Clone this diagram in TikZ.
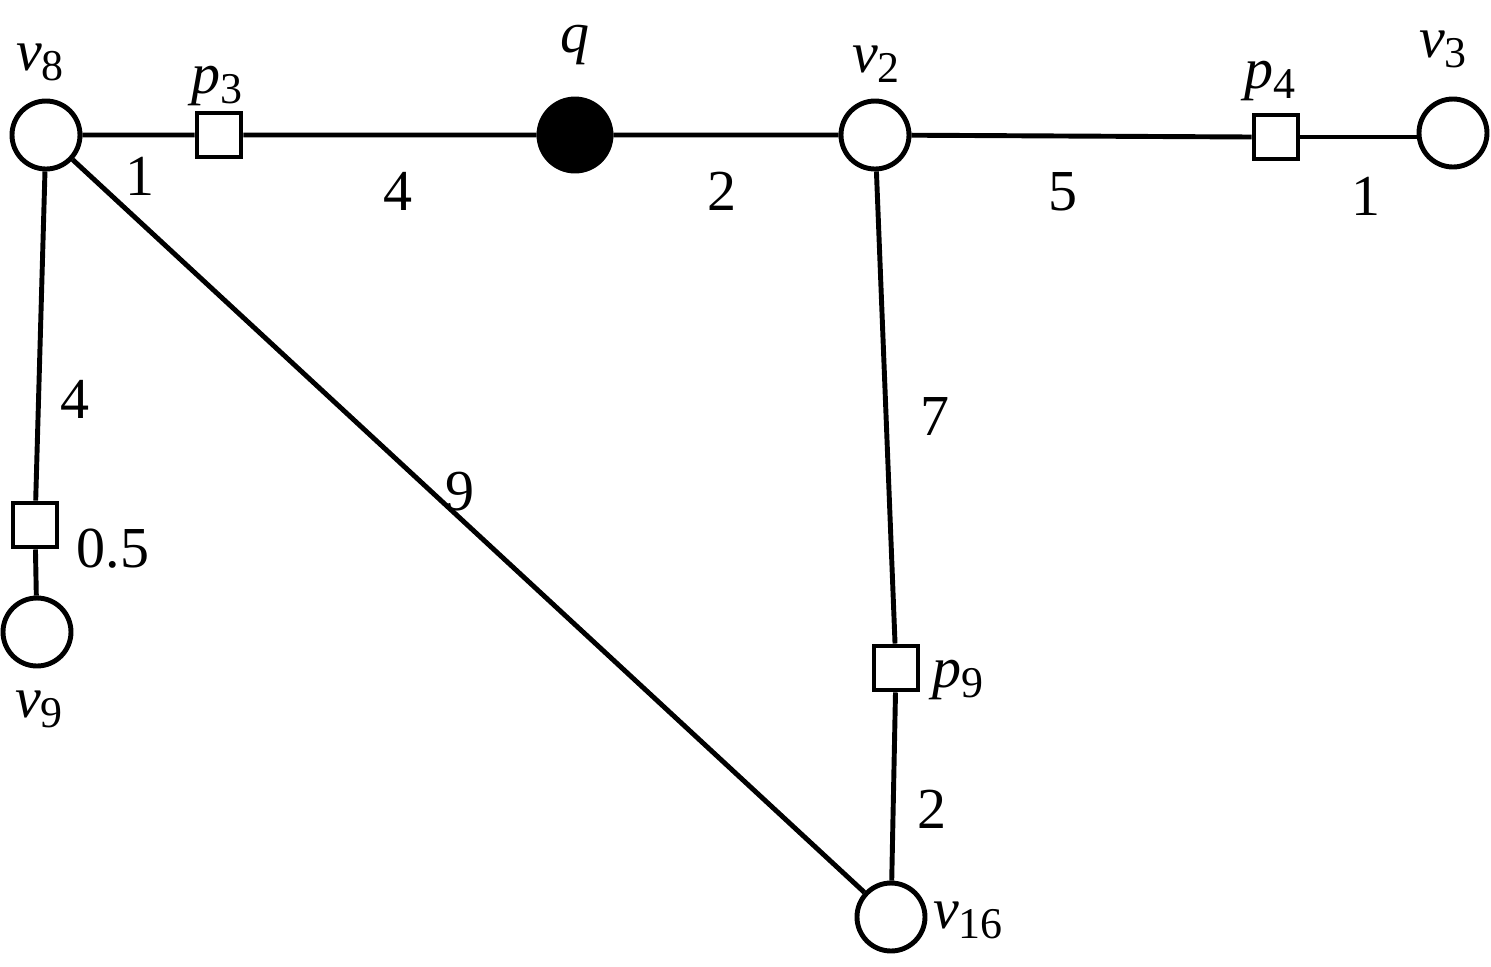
\documentclass[tikz,border=0pt]{standalone}
\usepackage{fontspec}
\setmainfont{Liberation Serif}
\newcommand{\lab}[2]{\textit{#1}\raisebox{-3pt}{\fontsize{12.5}{14}\selectfont #2}}
\begin{document}
\begin{tikzpicture}[font=\fontsize{16.5}{19}\selectfont, line width=1.4pt,
    vert/.style={draw, circle, minimum size=0.68cm, inner sep=0pt, fill=white},
    pnt/.style={draw, rectangle, minimum size=0.44cm, inner sep=0pt, fill=white},
    qry/.style={draw, circle, minimum size=0.72cm, inner sep=0pt, fill=black},
    txt/.style={anchor=base, inner sep=0pt}]
    \useasboundingbox (0,0) rectangle (14.91,-9.66);
    \node[vert] (v8) at (0.46,-1.35) {};
    \node[pnt] (p3) at (2.19,-1.35) {};
    \node[qry] (q) at (5.75,-1.35) {};
    \node[vert] (v2) at (8.75,-1.35) {};
    \node[pnt] (p4) at (12.76,-1.37) {};
    \node[vert] (v3) at (14.53,-1.33) {};
    \node[pnt] (pa) at (0.35,-5.25) {};
    \node[vert] (v9) at (0.37,-6.32) {};
    \node[pnt] (p9) at (8.96,-6.68) {};
    \node[vert] (v16) at (8.91,-9.17) {};
    \draw (v8) -- (p3) -- (q) -- (v2) -- (p4.west);
    \draw (p4.east) -- (v3.west |- p4.east);
    \draw (v8) -- (pa) -- (v9);
    \draw (v8) -- (v16);
    \draw (v2) -- (p9) -- (v16);
    \node[txt] (lv8) at (0.40,-0.70) {\lab{v}{8}};
    \node[txt] (lp3) at (2.17,-0.93) {\lab{p}{3}};
    \node[txt] (lq) at (5.75,-0.52) {\textit{q}};
    \node[txt] (lv2) at (8.76,-0.72) {\lab{v}{2}};
    \node[txt] (lp4) at (12.70,-0.88) {\lab{p}{4}};
    \node[txt] (lv3) at (14.43,-0.57) {\lab{v}{3}};
    \node[txt] (lv9) at (0.39,-7.17) {\lab{v}{9}};
    \node[txt] (lp9) at (9.58,-6.87) {\lab{p}{9}};
    \node[txt] (lv16) at (9.68,-9.28) {\lab{v}{16}};
    \node[txt] (e1) at (1.40,-1.95) {1};
    \node[txt] (e2) at (3.98,-2.10) {4};
    \node[txt] (e3) at (7.22,-2.10) {2};
    \node[txt] (e4) at (10.63,-2.10) {5};
    \node[txt] (e5) at (13.66,-2.15) {1};
    \node[txt] (e6) at (0.75,-4.18) {4};
    \node[txt] (e7) at (1.13,-5.67) {0.5};
    \node[txt] (e8) at (4.60,-5.10) {9};
    \node[txt] (e9) at (9.35,-4.35) {7};
    \node[txt] (e10) at (9.32,-8.28) {2};
\end{tikzpicture}
\end{document}
